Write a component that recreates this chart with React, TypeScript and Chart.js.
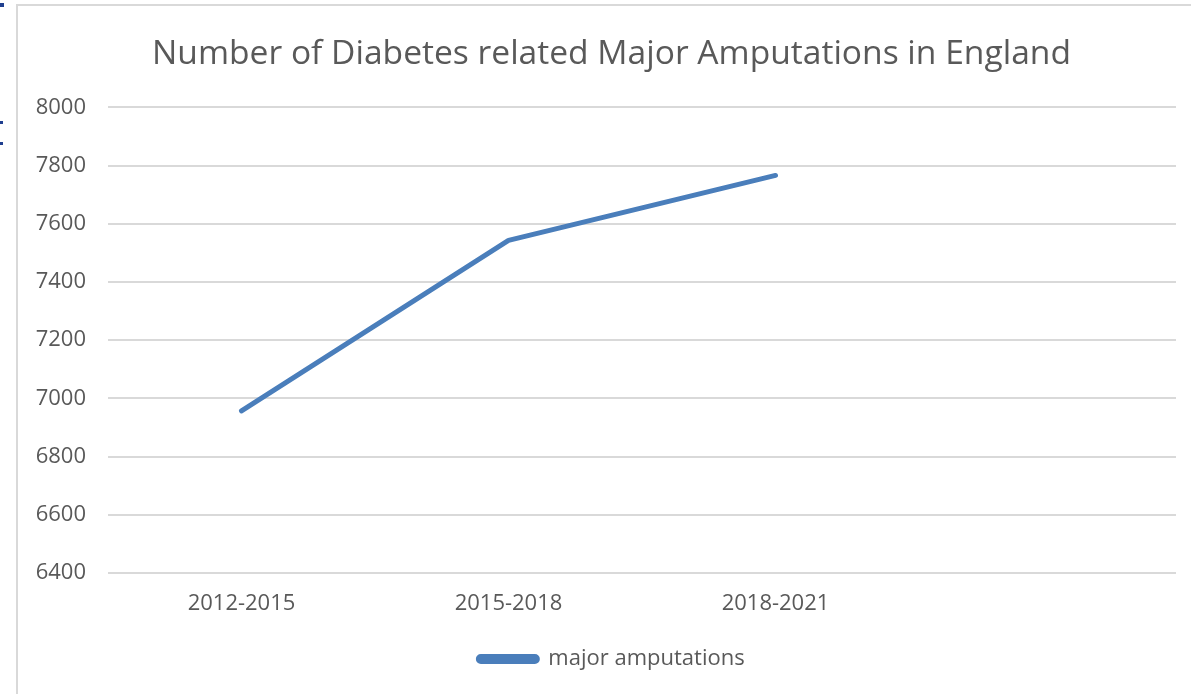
import React, { useEffect, useRef } from "react";
import { Chart, registerables } from "chart.js";

Chart.register(...registerables);

const categories = ["2012-2015", "2015-2018", "2018-2021", ""];
const amputations = [6957, 7543, 7766, null];
const seriesName = "major amputations";
const titleText = "Number of Diabetes related Major Amputations in England";
const yMin = 6400;
const yMax = 8000;
const yStep = 200;

const FONT = "'Open Sans', 'Noto Sans', sans-serif";
const TEXT = "#595959";
const GRID = "#d9d9d9";
const BLUE = "#4a7ebb";

export default function App() {
  const ref = useRef<HTMLCanvasElement | null>(null);

  useEffect(() => {
    if (!ref.current) return;
    const chart = new Chart(ref.current, {
      type: "line",
      data: {
        labels: categories,
        datasets: [
          {
            label: seriesName,
            data: amputations,
            borderColor: BLUE,
            backgroundColor: BLUE,
            borderWidth: 5,
            pointRadius: 0,
            pointHoverRadius: 0,
            borderCapStyle: "round",
            borderJoinStyle: "round",
            tension: 0,
          },
        ],
      },
      options: {
        responsive: false,
        animation: false,
        layout: { padding: { left: 29, right: 32, top: 0, bottom: 26 } },
        plugins: {
          title: {
            display: true,
            text: titleText,
            color: TEXT,
            font: { family: FONT, size: 33.6, weight: "normal" },
            padding: { top: 28, bottom: 33 },
          },
          legend: {
            position: "bottom",
            labels: {
              color: TEXT,
              font: { family: FONT, size: 22 },
              boxWidth: 59,
              boxHeight: 5,
              padding: 10,
              useBorderRadius: true,
              borderRadius: 2.5,
            },
          },
          tooltip: { enabled: false },
        },
        scales: {
          x: {
            type: "category",
            offset: true,
            grid: { display: false, drawTicks: false },
            border: { display: false },
            ticks: {
              color: TEXT,
              font: { family: FONT, size: 22 },
              padding: 18,
              maxRotation: 0,
            },
            afterFit: (scale: any) => {
              scale.height = 65;
            },
          },
          y: {
            min: yMin,
            max: yMax,
            grid: { color: GRID, lineWidth: 2, drawTicks: false },
            border: { display: false },
            ticks: {
              stepSize: yStep,
              color: TEXT,
              font: { family: FONT, size: 22 },
              padding: 22,
              callback: (v: any) => String(v),
            },
            afterFit: (scale: any) => {
              scale.width = 61;
              // let the tick labels extend left of the scale box without clipping
              scale._computeLabelArea = () => undefined;
            },
          },
        },
      },
    });
    return () => chart.destroy();
  }, []);

  return (
    <div
      style={{
        position: "fixed",
        left: 0,
        top: 0,
        width: 1191,
        height: 694,
        overflow: "hidden",
        background: "#ffffff",
      }}
    >
      <div style={{ position: "absolute", left: 0, top: 3, width: 4, height: 4, background: "#1f3f8f" }} />
      <div style={{ position: "absolute", left: 0, top: 121, width: 3, height: 3, background: "#1f3f8f" }} />
      <div style={{ position: "absolute", left: 0, top: 142, width: 3, height: 3, background: "#1f3f8f" }} />
      <div
        style={{
          position: "absolute",
          left: 16,
          top: 4,
          width: 1190,
          height: 700,
          borderLeft: `2px solid ${GRID}`,
          borderTop: `2px solid ${GRID}`,
          background: "#ffffff",
        }}
      >
        <canvas ref={ref} width={1190} height={700} style={{ display: "block", width: 1190, height: 700 }} />
      </div>
    </div>
  );
}
